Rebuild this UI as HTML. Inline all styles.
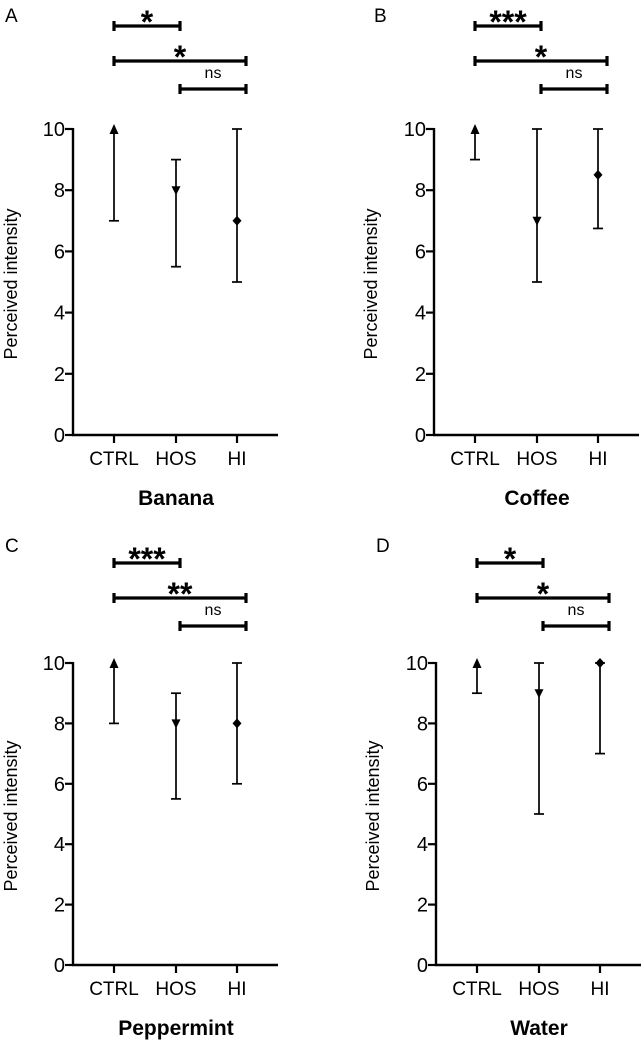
<!DOCTYPE html>
<html><head><meta charset="utf-8"><style>
html,body{margin:0;padding:0;background:#fff;}
svg{display:block;font-family:"Liberation Sans",Arial,sans-serif;}
</style></head><body>
<svg id="fig" width="644" height="1050" viewBox="0 0 644 1050"></svg>
<script>
const categories = ["CTRL","HOS","HI"];
const yTicks = [0,2,4,6,8,10];
const panelLetters = ["A","B","C","D"];
const panelTitles = ["Banana","Coffee","Peppermint","Water"];
const medians = [[10,8,7],[10,7,8.5],[10,8,8],[10,9,10]];
const lows = [[7,5.5,5],[9,5,6.75],[8,5.5,6],[9,5,7]];
const highs = [[10,9,10],[10,10,10],[10,9,10],[10,10,10]];
const sigLabels = [["*","*","ns"],["***","*","ns"],["***","**","ns"],["*","*","ns"]];

const NS="http://www.w3.org/2000/svg";
const svg=document.getElementById('fig');
function mk(tag,attrs,parent){const e=document.createElementNS(NS,tag);for(const k in attrs)e.setAttribute(k,attrs[k]);(parent||svg).appendChild(e);return e;}

const offsets=[[0,0],[361,0],[0,530],[363,530]];
const markers=["up","down","diamond"];

for(let p=0;p<4;p++){
  const [ox,oy]=offsets[p];
  const g=mk('g',{});
  
  
  const axX=73+ox, y0=435+oy, y10=p<2?129+oy:133+oy;
  const yS=v=>y0-(y0-y10)*v/10;
  const xPos=[114+ox,176+ox,237+ox];
  const xS=i=>xPos[i];
  const L=mk('text',{x:5+ox+(p%2?8:0),y:22+oy,'font-size':19},g);L.textContent=panelLetters[p];
  
  const ya=mk('line',{x1:axX,y1:y10-1,x2:axX,y2:y0+1,stroke:'#000','stroke-width':2.4},g);
  
  const xa=mk('line',{x1:axX-1,y1:y0,x2:278+ox,y2:y0,stroke:'#000','stroke-width':2.4},g);
  
  yTicks.forEach(t=>{
    mk('line',{x1:axX-8,y1:yS(t),x2:axX,y2:yS(t),stroke:'#000','stroke-width':2.2},g);
    const tx=mk('text',{x:axX-8,y:yS(t)+7,'font-size':20,'text-anchor':'end'},g);tx.textContent=t;
    
  });
  categories.forEach((c,i)=>{
    mk('line',{x1:xS(i),y1:y0,x2:xS(i),y2:y0+8,stroke:'#000','stroke-width':2.2},g);
    const tx=mk('text',{x:xS(i),y:y0+30,'font-size':19,'text-anchor':'middle'},g);tx.textContent=c;
    
  });
  const yt=mk('text',{x:0,y:0,'font-size':18,'text-anchor':'middle',transform:`translate(${17+ox+(p%2?-1:0)},${(y0+y10)/2+2}) rotate(-90)`},g);
  yt.textContent='Perceived intensity';
  const tt=mk('text',{x:176+ox,y:y0+70,'font-size':21,'font-weight':'bold','text-anchor':'middle'},g);
  tt.textContent=panelTitles[p];
  for(let i=0;i<3;i++){
    const x=xS(i);
    const eb=mk('g',{},g);
    
    mk('line',{x1:x,y1:yS(lows[p][i]),x2:x,y2:yS(highs[p][i]),stroke:'#000','stroke-width':1.7},eb);
    mk('line',{x1:x-5,y1:yS(lows[p][i]),x2:x+5,y2:yS(lows[p][i]),stroke:'#000','stroke-width':1.7},eb);
    if(i>0) mk('line',{x1:x-5,y1:yS(highs[p][i]),x2:x+5,y2:yS(highs[p][i]),stroke:'#000','stroke-width':1.7},eb);
    const my=yS(medians[p][i]);let pts;
    if(markers[i]==='up')pts=`${x},${my-5} ${x-4.5},${my+5} ${x+4.5},${my+5}`;
    else if(markers[i]==='down')pts=`${x},${my+5} ${x-4.5},${my-4} ${x+4.5},${my-4}`;
    else pts=`${x},${my-5} ${x+4.5},${my} ${x},${my+5} ${x-4.5},${my}`;
    const m=mk('polygon',{points:pts,fill:'#000'},g);
    
  }
  const br=[[0,1,26],[0,2,61],[1,2,89]];
  br.forEach((b,k)=>{
    const by=b[2]+(p<2?0:oy+7);
    const x1=xS(b[0]), x2=b[1]===1?xS(1)+4:xS(2)+9;
    const xa1=b[0]===1?xS(1)+4:x1;
    const bg=mk('g',{},g);
    
    mk('line',{x1:xa1,y1:by,x2:x2,y2:by,stroke:'#000','stroke-width':3.2},bg);
    mk('line',{x1:xa1,y1:by-5,x2:xa1,y2:by+5,stroke:'#000','stroke-width':3.2},bg);
    mk('line',{x1:x2,y1:by-5,x2:x2,y2:by+5,stroke:'#000','stroke-width':3.2},bg);
    const lab=sigLabels[p][k];
    const tx=mk('text',{x:(xa1+x2)/2,y:lab==='ns'?by-11:by+7,'font-size':lab==='ns'?16:32,'font-weight':lab==='ns'?'normal':'bold','text-anchor':'middle'},bg);
    tx.textContent=lab;
  });
}
</script>
</body></html>
